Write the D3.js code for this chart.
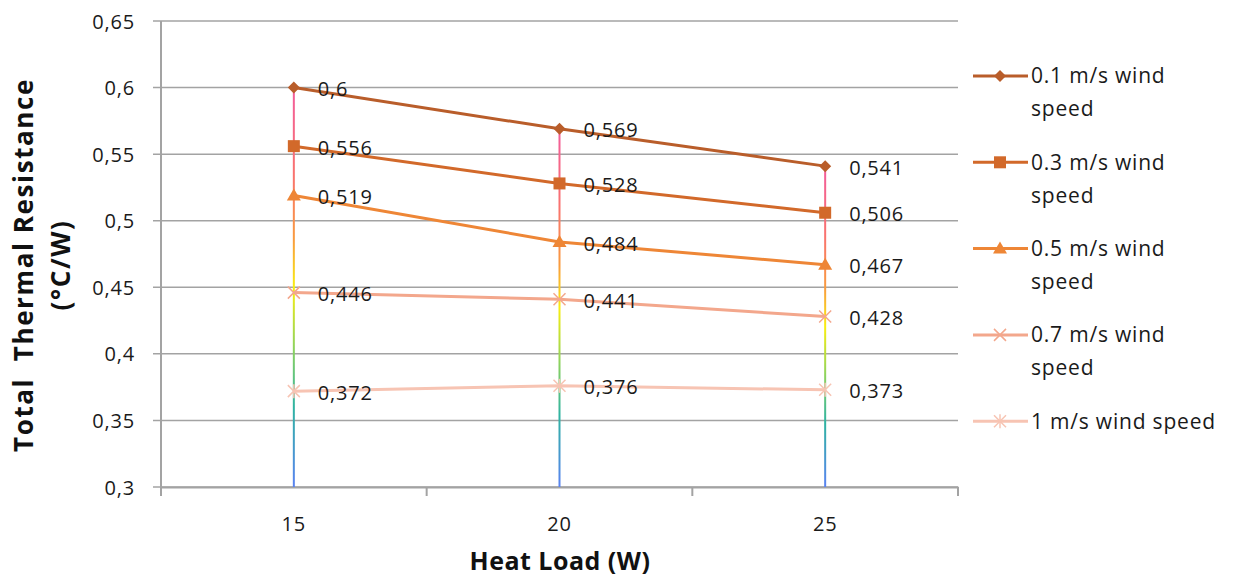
<!DOCTYPE html>
<html>
<head>
<meta charset="utf-8">
<script src="https://cdn.jsdelivr.net/npm/d3@7"></script>
<style>
  body { margin: 0; background: #fff; }
  svg { display: block; font-family: "Open Sans", sans-serif; }
</style>
</head>
<body>
<div id="chart"></div>
<script>
// Données
const heatLoads = ["15", "20", "25"];
const seriesNames = ["0.1 m/s wind speed", "0.3 m/s wind speed", "0.5 m/s wind speed", "0.7 m/s wind speed", "1 m/s wind speed"];
const legendLines = [["0.1 m/s wind", "speed"], ["0.3 m/s wind", "speed"], ["0.5 m/s wind", "speed"], ["0.7 m/s wind", "speed"], ["1 m/s wind speed"]];
const wind01 = [0.6, 0.569, 0.541];
const wind03 = [0.556, 0.528, 0.506];
const wind05 = [0.519, 0.484, 0.467];
const wind07 = [0.446, 0.441, 0.428];
const wind1 = [0.372, 0.376, 0.373];
const yTicks = [0.3, 0.35, 0.4, 0.45, 0.5, 0.55, 0.6, 0.65];

const seriesValues = [wind01, wind03, wind05, wind07, wind1];
const colors = ["#b95d2a", "#d2692a", "#ee8636", "#f3a78c", "#f7c4b3"];
const markers = ["diamond", "square", "triangle", "x", "star"];

const width = 1233, height = 576;
const svg = d3.select("#chart").append("svg")
  .attr("width", width)
  .attr("height", height);

// Échelles
const x = d3.scaleBand().domain(heatLoads).range([161, 958]);
const y = d3.scaleLinear().domain([0.3, 0.65]).range([487, 21]);
const cx = d => x(d) + x.bandwidth() / 2;
const fmt = v => String(v).replace(".", ",");

// Dégradé des lignes verticales
const grad = svg.append("defs").append("linearGradient")
  .attr("id", "drop").attr("x1", 0).attr("y1", 0).attr("x2", 0).attr("y2", 1);
[[0, "#f25c9c"], [0.22, "#f9736e"], [0.38, "#f99b3e"], [0.5, "#f9ee10"], [0.65, "#8fd35c"], [0.8, "#2fb3a2"], [1, "#5a82f2"]]
  .forEach(([o, c]) => grad.append("stop").attr("offset", o).attr("stop-color", c));

// Grille
svg.append("g").selectAll("line").data(yTicks).join("line")
  .attr("x1", 153).attr("x2", 958)
  .attr("y1", d => y(d)).attr("y2", d => y(d))
  .attr("stroke", "#a3a3a3").attr("stroke-width", 1.5);

// Axe Y
svg.append("line").attr("x1", 161).attr("x2", 161).attr("y1", y(0.65)).attr("y2", y(0.3))
  .attr("stroke", "#a3a3a3").attr("stroke-width", 2);
svg.append("g").selectAll("text").data(yTicks).join("text")
  .attr("x", 135).attr("y", d => y(d))
  .attr("text-anchor", "end").attr("dominant-baseline", "central")
  .attr("font-size", 20).attr("letter-spacing", 0.8).attr("fill", "#1a1a1a")
  .text(d => fmt(d));

// Axe X
const xAxis = svg.append("g").attr("transform", `translate(0,${y(0.3)})`)
  .call(d3.axisBottom(x).tickSize(0).tickPadding(30));
xAxis.select(".domain").attr("stroke", "#a3a3a3").attr("stroke-width", 2);
xAxis.selectAll("text").attr("font-size", 20).attr("letter-spacing", 0.8)
  .attr("fill", "#1a1a1a").attr("font-family", "Open Sans");
const bounds = heatLoads.map(d => x(d)).concat([x.range()[1]]);
svg.append("g").selectAll("line").data(bounds).join("line")
  .attr("x1", d => d).attr("x2", d => d)
  .attr("y1", y(0.3)).attr("y2", y(0.3) + 9)
  .attr("stroke", "#a3a3a3").attr("stroke-width", 2);

// Lignes verticales (max -> 0,3)
svg.append("g").selectAll("rect").data(heatLoads).join("rect")
  .attr("x", d => cx(d) - 1)
  .attr("width", 2)
  .attr("y", (d, i) => y(d3.max(seriesValues, s => s[i])))
  .attr("height", (d, i) => y(0.3) - y(d3.max(seriesValues, s => s[i])))
  .attr("fill", "url(#drop)");

// Marqueurs
function drawMarker(g, type, color) {
  if (type === "diamond") {
    g.append("path").attr("d", "M0,-6L6,0L0,6L-6,0Z").attr("fill", color);
  } else if (type === "square") {
    g.append("rect").attr("x", -6).attr("y", -6).attr("width", 12).attr("height", 12).attr("fill", color);
  } else if (type === "triangle") {
    g.append("path").attr("d", "M0,-7L7,5L-7,5Z").attr("fill", color);
  } else {
    g.append("path").attr("d", "M-6,-6L6,6M-6,6L6,-6").attr("stroke", color).attr("stroke-width", 1.5).attr("fill", "none");
    if (type === "star") {
      g.append("path").attr("d", "M0,-7V7").attr("stroke", color).attr("stroke-width", 1.5);
    }
  }
}

// Séries
const line = d3.line().x((d, i) => cx(heatLoads[i])).y(d => y(d));
seriesValues.forEach((vals, s) => {
  const g = svg.append("g");
  g.append("path").datum(vals)
    .attr("fill", "none").attr("stroke", colors[s]).attr("stroke-width", 3)
    .attr("d", line);
  vals.forEach((v, i) => {
    const m = g.append("g").attr("transform", `translate(${cx(heatLoads[i])},${y(v)})`);
    drawMarker(m, markers[s], colors[s]);
  });
  g.selectAll("text").data(vals).join("text")
    .attr("x", (d, i) => cx(heatLoads[i]) + 24)
    .attr("y", d => y(d) + 1)
    .attr("dominant-baseline", "central")
    .attr("font-size", 20).attr("letter-spacing", 0.8).attr("fill", "#1a1a1a")
    .text(d => fmt(d));
});

// Légende
const legend = svg.append("g");
seriesNames.forEach((name, s) => {
  const ly = 76 + s * 86.3;
  legend.append("line").attr("x1", 973).attr("x2", 1028).attr("y1", ly).attr("y2", ly)
    .attr("stroke", colors[s]).attr("stroke-width", 3);
  drawMarker(legend.append("g").attr("transform", `translate(1000,${ly})`), markers[s], colors[s]);
  legend.append("text").attr("x", 1031).attr("y", ly)
    .attr("font-size", 21).attr("letter-spacing", 0.8).attr("fill", "#1a1a1a")
    .selectAll("tspan").data(legendLines[s]).join("tspan")
    .attr("x", 1031).attr("dy", (d, i) => i === 0 ? "0.35em" : 33)
    .text(d => d);
});

// Titres des axes
svg.append("text")
  .attr("x", 560).attr("y", 560)
  .attr("text-anchor", "middle").attr("dominant-baseline", "central")
  .attr("font-size", 25).attr("font-weight", "bold").attr("fill", "#111")
  .attr("letter-spacing", 0.5)
  .text("Heat Load (W)");

const yTitle = svg.append("text")
  .attr("transform", "translate(24,265) rotate(-90)")
  .attr("text-anchor", "middle")
  .attr("font-size", 26).attr("font-weight", "bold").attr("fill", "#111")
  .attr("letter-spacing", 1.6)
  .style("white-space", "pre");
yTitle.append("tspan").attr("x", 0).attr("dy", "0.35em").text("Total  Thermal Resistance");
yTitle.append("tspan").attr("x", 0).attr("dy", 37).text("(°C/W)");
</script>
</body>
</html>
